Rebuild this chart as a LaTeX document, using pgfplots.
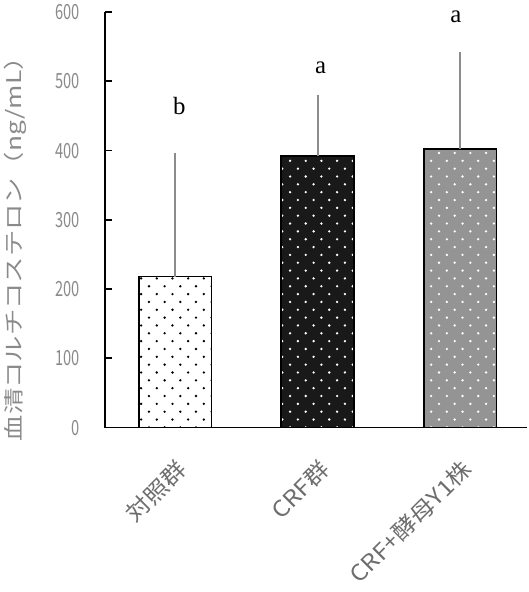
\documentclass[border=0pt]{standalone}
\usepackage{pgfplots}
\pgfplotsset{compat=1.18}
\usetikzlibrary{patterns}
\usepackage{fontspec}
\setmainfont{Noto Sans CJK JP}
\newfontfamily\jpwide[FakeStretch=1.3]{Noto Sans CJK JP}
\newfontfamily\jpmid[FakeStretch=1.12]{Noto Sans CJK JP}
\newfontfamily\jpnarrow[FakeStretch=0.7]{Noto Sans CJK JP}
\newfontfamily\serifletters{Liberation Serif}
\definecolor{ticktext}{HTML}{8A8A8A}
\definecolor{labtext}{HTML}{6E6E6E}
\definecolor{errgray}{HTML}{8C8C8C}
\pgfdeclarepatternformonly{sparsedots}{\pgfqpoint{-1.2pt}{-1.2pt}}{\pgfqpoint{10.8pt}{10.8pt}}{\pgfqpoint{12pt}{12pt}}{%
  \pgfpathcircle{\pgfqpoint{0pt}{0pt}}{1pt}%
  \pgfpathcircle{\pgfqpoint{6pt}{6pt}}{1pt}%
  \pgfusepath{fill}}
\begin{document}
\begin{tikzpicture}
\begin{axis}[
  scale only axis, width=323pt, height=318pt,
  xmin=-0.49, xmax=2.47, ymin=0, ymax=600,
  axis lines=left, axis line style={-, line width=1.3pt},
  xtick={0,1,2}, xticklabels={対照群, CRF群, CRF+酵母Y1株},
  x tick label style={rotate=45, anchor=north east, font=\jpmid\fontsize{17}{20}\selectfont, text=labtext},
  xticklabel shift=18pt,
  major x tick style={draw=none},
  ytick={0,100,...,600},
  tick align=inside, major tick length=5pt,
  major y tick style={line width=1.3pt, black},
  y tick label style={font=\jpnarrow\fontsize{16}{18}\selectfont, text=ticktext},
  yticklabel shift=16pt,
  /pgf/number format/assume math mode=true,
  ylabel={血清コルチコステロン（ng/mL）},
  ylabel style={at={(axis description cs:-0.175,0.445)}, anchor=south, rotate=0,
    font=\jpwide\fontsize{15.5}{18}\selectfont, text=ticktext},
  clip=false,
]
\addplot[ybar, bar width=0.51, draw=black, line width=1.3pt, fill=white,
  postaction={pattern=sparsedots, pattern color=black},
  error bars/.cd, y dir=plus, y explicit, error mark=none,
  error bar style={errgray, line width=1.5pt}]
  coordinates {(0,218) +- (0,179)};
\addplot[ybar, bar width=0.51, draw=black, line width=1.3pt, fill=black!90,
  postaction={pattern=sparsedots, pattern color=white},
  error bars/.cd, y dir=plus, y explicit, error mark=none,
  error bar style={errgray, line width=1.5pt}]
  coordinates {(1,392) +- (0,88)};
\addplot[ybar, bar width=0.51, draw=black, line width=1.3pt, fill=black!42,
  postaction={pattern=sparsedots, pattern color=white},
  error bars/.cd, y dir=plus, y explicit, error mark=none,
  error bar style={errgray, line width=1.5pt}]
  coordinates {(2,402) +- (0,140)};
\node[font=\serifletters\fontsize{19}{21}\selectfont] at (axis cs:0.03,465) {b};
\node[font=\serifletters\fontsize{19}{21}\selectfont] at (axis cs:1.02,520) {a};
\node[font=\serifletters\fontsize{19}{21}\selectfont] at (axis cs:1.97,593) {a};
\end{axis}
\end{tikzpicture}
\end{document}
